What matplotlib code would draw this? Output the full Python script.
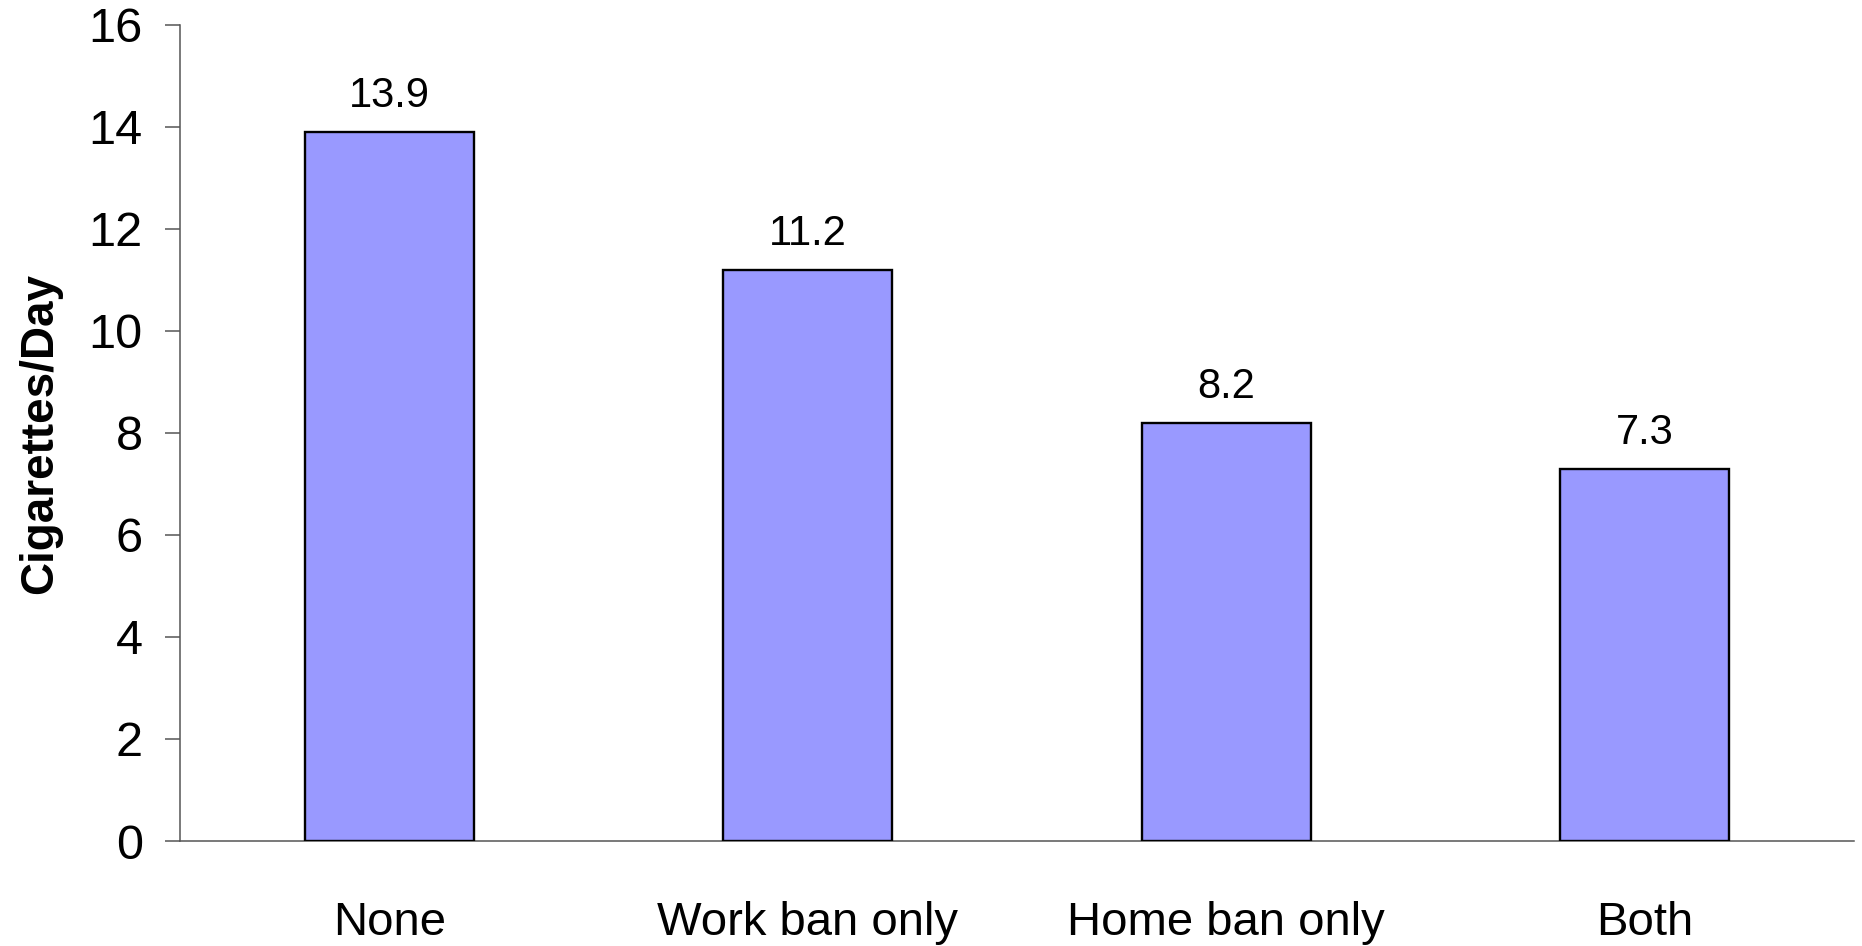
import matplotlib.pyplot as plt

# Données
categories = ["None", "Work ban only", "Home ban only", "Both"]
cigarettes_par_jour = [13.9, 11.2, 8.2, 7.3]
y_ticks = [0, 2, 4, 6, 8, 10, 12, 14, 16]

plt.rcParams['font.family'] = ['Liberation Sans', 'DejaVu Sans']

fig = plt.figure(figsize=(18.62, 9.46), dpi=100)
ax = fig.add_axes([180 / 1862, 1 - 841 / 946, (1854 - 180) / 1862, (841 - 24.7) / 946])

x = range(len(categories))
bars = ax.bar(x, cigarettes_par_jour, width=0.405, color="#9999FF",
              edgecolor="black", linewidth=1.7, zorder=3)

# Étiquettes de valeur au-dessus des barres
for b, v in zip(bars, cigarettes_par_jour):
    ax.annotate(f"{v:.1f}", (b.get_x() + b.get_width() / 2, v),
                xytext=(0, 18), textcoords="offset points",
                ha="center", va="baseline", fontsize=30)

ax.set_xlim(-0.5, 3.5)
ax.set_ylim(0, 16)
ax.set_yticks(y_ticks)
ax.set_xticks(list(x))
ax.set_xticklabels(categories)

for s in ["top", "right"]:
    ax.spines[s].set_visible(False)
for s in ["left", "bottom"]:
    ax.spines[s].set_color("#555555")
    ax.spines[s].set_linewidth(1.1)

ax.tick_params(axis="y", length=10.8, width=1.1, color="#555555",
               pad=16, labelsize=35)
ax.tick_params(axis="x", length=0, pad=43, labelsize=34)

fig.text(18 / 1862, 1 - 433 / 946, "Cigarettes/Day", rotation=90,
         ha="left", va="center", fontsize=33, fontweight="bold")

fig.savefig("out.png", dpi=100)
